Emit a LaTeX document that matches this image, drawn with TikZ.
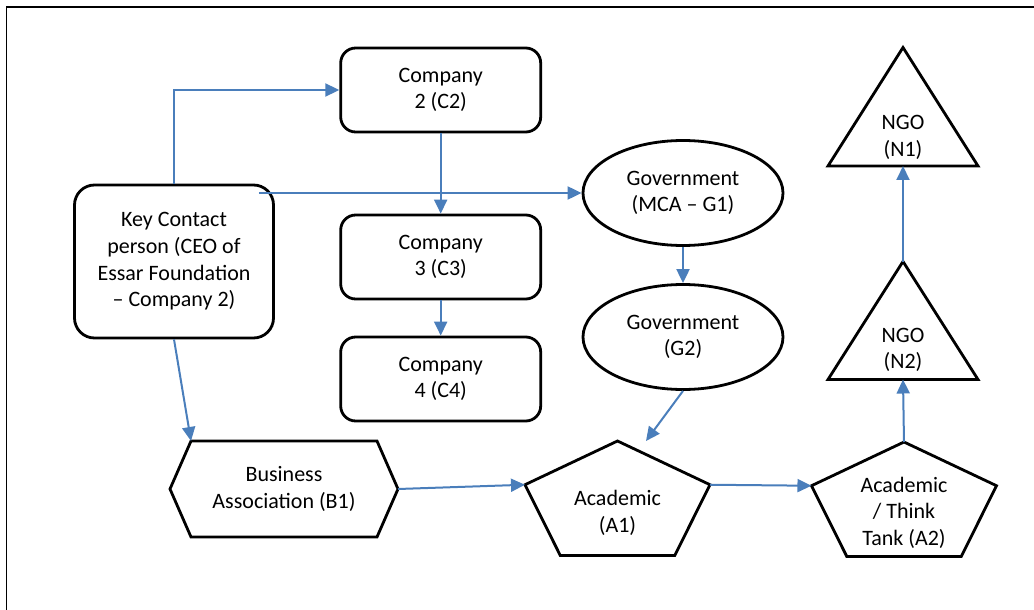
\documentclass[tikz,border=0pt]{standalone}
\usepackage{fontspec}
\setmainfont{Carlito}
\usetikzlibrary{arrows.meta,positioning,shapes.geometric}
\definecolor{linkblue}{RGB}{74,126,187}

\tikzset{
  box/.style={draw, line width=1.4pt, rounded corners=7.5pt, minimum width=100pt, minimum height=42pt, align=center},
  govt/.style={ellipse, draw, line width=1.4pt, minimum width=100pt, minimum height=52.5pt, inner sep=0pt, align=center},
  txt/.style={align=center},
  shapeline/.style={line width=1.4pt, line join=miter},
  flow/.style={linkblue, line width=1pt, -{Triangle[length=7pt,width=6.5pt]}}
}

\begin{document}
\begin{tikzpicture}[x=0.5pt, y=0.5pt, font=\fontsize{11}{13.3}\selectfont]
    \useasboundingbox (0,0) rectangle (1034,-610);
    % Frame (top and left edges only)
    \draw[line width=0.9pt] (1034,-7) -- (6.5,-7) -- (6.5,-610);

    % Define nodes
    \node[box, rounded corners=10pt, minimum width=99.5pt, minimum height=76.5pt] (key) at (174,-261.5) {Key Contact\\person (CEO of\\Essar Foundation\\-- Company 2)};
    \node[box] (c2) at (440.7,-90) {Company\\2 (C2)};
    \node[box] (c3) at (440.7,-257) {Company\\3 (C3)};
    \node[box] (c4) at (440.7,-379) {Company\\4 (C4)};
    \node[govt] (g1) at (683,-193) {Government\\(MCA -- G1)};
    \node[govt] (g2) at (683,-337) {Government\\(G2)};

    % Business association (hexagon)
    \node[txt] (b1) at (284,-489) {Business\\Association (B1)};
    \draw[shapeline] (b1) +(-114,0) -- +(-93,48) coordinate (b1-nw) -- +(93,48) -- +(114,0) coordinate (b1-e)
        -- +(93,-48) -- +(-93,-48) -- cycle;

    % Academics (pentagons)
    \node[txt] (a1) at (617.5,-513) {Academic\\(A1)};
    \draw[shapeline] ([yshift=4.35pt]a1.center) +(90:97.3 and 63.3) coordinate (a1-n)
        -- +(162:97.3 and 63.3) coordinate (a1-w) -- +(234:97.3 and 63.3) -- +(306:97.3 and 63.3)
        -- +(18:97.3 and 63.3) coordinate (a1-e) -- cycle;
    \node[txt] (a2) at (904,-512.5) {Academic\\/ Think\\Tank (A2)};
    \draw[shapeline] ([yshift=3.6pt]a2.center) +(90:97.3 and 63.3) coordinate (a2-n)
        -- +(162:97.3 and 63.3) coordinate (a2-w) -- +(234:97.3 and 63.3) -- +(306:97.3 and 63.3)
        -- +(18:97.3 and 63.3) coordinate (a2-e) -- cycle;

    % NGOs (triangles)
    \node[txt] (n1) at (903,-137.5) {NGO\\(N1)};
    \draw[shapeline] (n1) +(0,90) coordinate (n1-top) -- +(75,-28.5) -- +(-75,-28.5) -- cycle;
    \coordinate (n1-bot) at ([yshift=-14.25pt]n1.center);
    \node[txt] (n2) at (903,-350) {NGO\\(N2)};
    \draw[shapeline] (n2) +(0,88.5) coordinate (n2-top) -- +(75,-29.5) -- +(-75,-29.5) -- cycle;
    \coordinate (n2-bot) at ([yshift=-14.75pt]n2.center);

    % Connectors
    \coordinate (kg) at ([xshift=-8pt]key.north east);
    \coordinate (a1-in) at (646,-441);
    \draw[flow] (key.north) |- (c2.west);
    \draw[flow] (kg |- g1.west) -- (g1.west);
    \draw[flow] (c2.south) -- (c3.north);
    \draw[flow] (c3.south) -- (c4.north);
    \draw[flow] (g1.south) -- (g2.north);
    \draw[flow] (key.south) -- (b1-nw);
    \draw[flow] (g2.south) -- (a1-in);
    \draw[flow] (b1-e) -- (a1-w);
    \draw[flow] (a1-e) -- (a2-w);
    \draw[flow] (a2-n) -- (n2-bot);
    \draw[flow] (n2-top) -- (n1-bot);
\end{tikzpicture}
\end{document}
